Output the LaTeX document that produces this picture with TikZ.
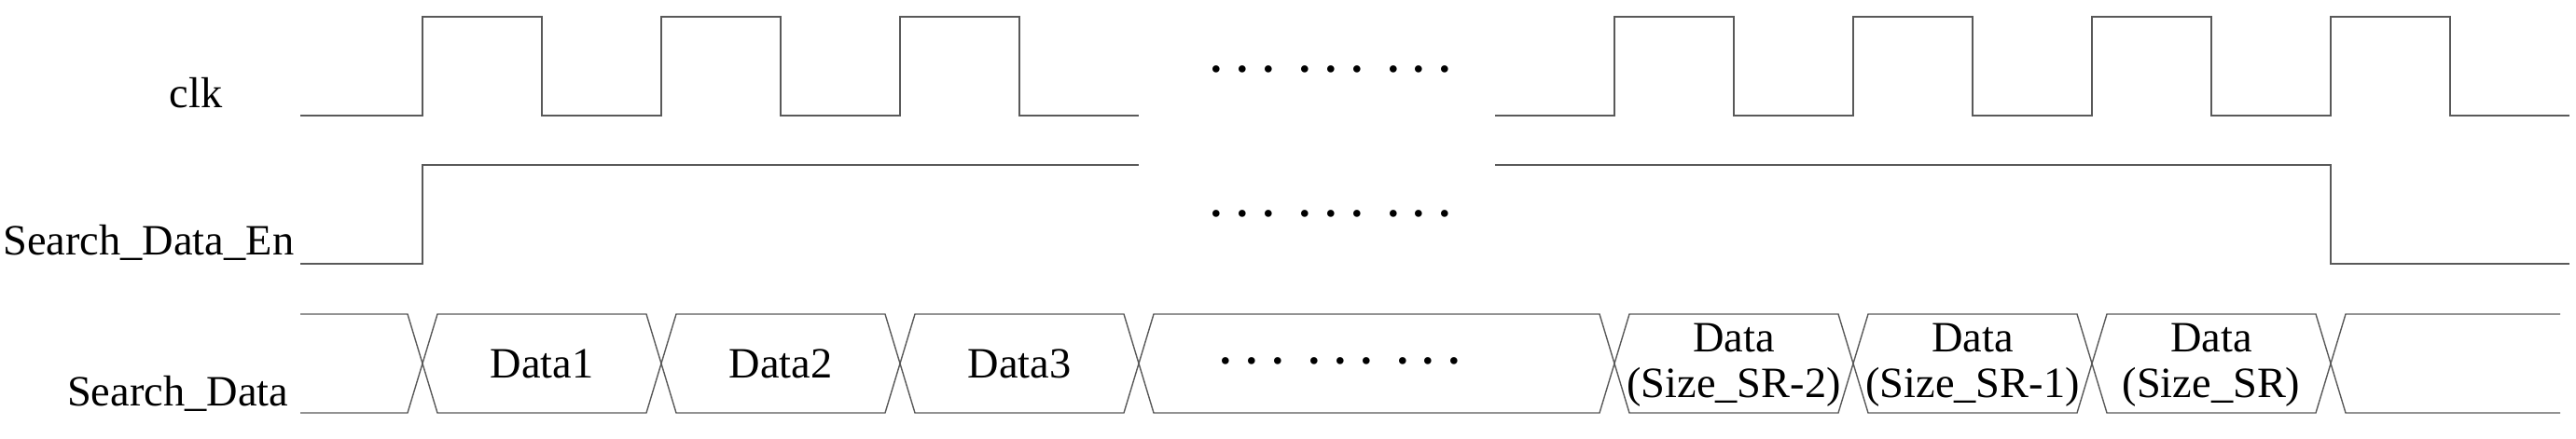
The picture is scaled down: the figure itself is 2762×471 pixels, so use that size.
\documentclass[tikz,border=0pt]{standalone}
\usepackage{fontspec}
\setmainfont{Liberation Serif}
\usetikzlibrary{positioning}

\newcommand\gapdots{.\hspace{0.35em}.\hspace{0.35em}.\hspace{0.59em}.\hspace{0.35em}.\hspace{0.35em}.\hspace{0.59em}.\hspace{0.35em}.\hspace{0.35em}.}

\begin{document}
\begin{tikzpicture}[
          x=0.25pt,
          y=-0.25pt,
          wave/.style={
            draw=black!65,
            line width=0.55pt},
          bus/.style={
            draw=black!65,
            line width=0.35pt},
          signame/.style={
            inner sep=0pt,
            anchor=base east,
            font=\fontsize{11.6}{14}\selectfont},
          dataname/.style={
            inner sep=0pt,
            align=center,
            font=\fontsize{11.6}{12.25}\selectfont},
          gap/.style={
            inner sep=0pt,
            font=\fontsize{11.6}{14}\selectfont\bfseries},
        ]
          \useasboundingbox (0,0) rectangle (2762,471);

          % signal names
          \node[signame] (clk) at (239,115) {clk};
          \node[signame] (en) at (316,273) {Search\_Data\_En};
          \node[signame] (data) at (310,435) {Search\_Data};

          % clk
          \draw[wave] (322,124) foreach \t in {453,709,965} {
            -- (\t,124) -- (\t,18) -- (\t+128,18) -- (\t+128,124)} -- (1221,124);
          \draw[wave] (1603,124) foreach \t in {1731,1987,2243,2499} {
            -- (\t,124) -- (\t,18) -- (\t+128,18) -- (\t+128,124)} -- (2755,124);

          % enable
          \draw[wave] (322,283) -- (453,283) -- (453,177) -- (1221,177);
          \draw[wave] (1603,177) -- (2499,177) -- (2499,283) -- (2755,283);

          % data bus
          \draw[bus] (322,337) -- (437,337) -- (453,390) -- (437,443) -- (322,443);
          \foreach \a/\b in {453/709,709/965,965/1221,1221/1731,1731/1987,1987/2243,2243/2499}
            \draw[bus] (\a,390) -- (\a+16,337) -- (\b-16,337) -- (\b,390)
              -- (\b-16,443) -- (\a+16,443) -- cycle;
          \draw[bus] (2745,337) -- (2515,337) -- (2499,390) -- (2515,443) -- (2745,443);

          \node[dataname, anchor=base] (d1) at (581,405) {Data1};
          \node[dataname, anchor=base] (d2) at (837,405) {Data2};
          \node[dataname, anchor=base] (d3) at (1093,405) {Data3};
          \node[dataname] (dsr2) at (1859,392) {Data\\(Size\_SR-2)};
          \node[dataname] (dsr1) at (2115,392) {Data\\(Size\_SR-1)};
          \node[dataname] (dsr) at (2371,392) {Data\\(Size\_SR)};

          % skipped cycles
          \node[gap] (gclk) at (1427,74) {\gapdots};
          \node[gap] (gen) at (1427,229) {\gapdots};
          \node[gap] (gdata) at (1437,387) {\gapdots};
        \end{tikzpicture}
\end{document}
